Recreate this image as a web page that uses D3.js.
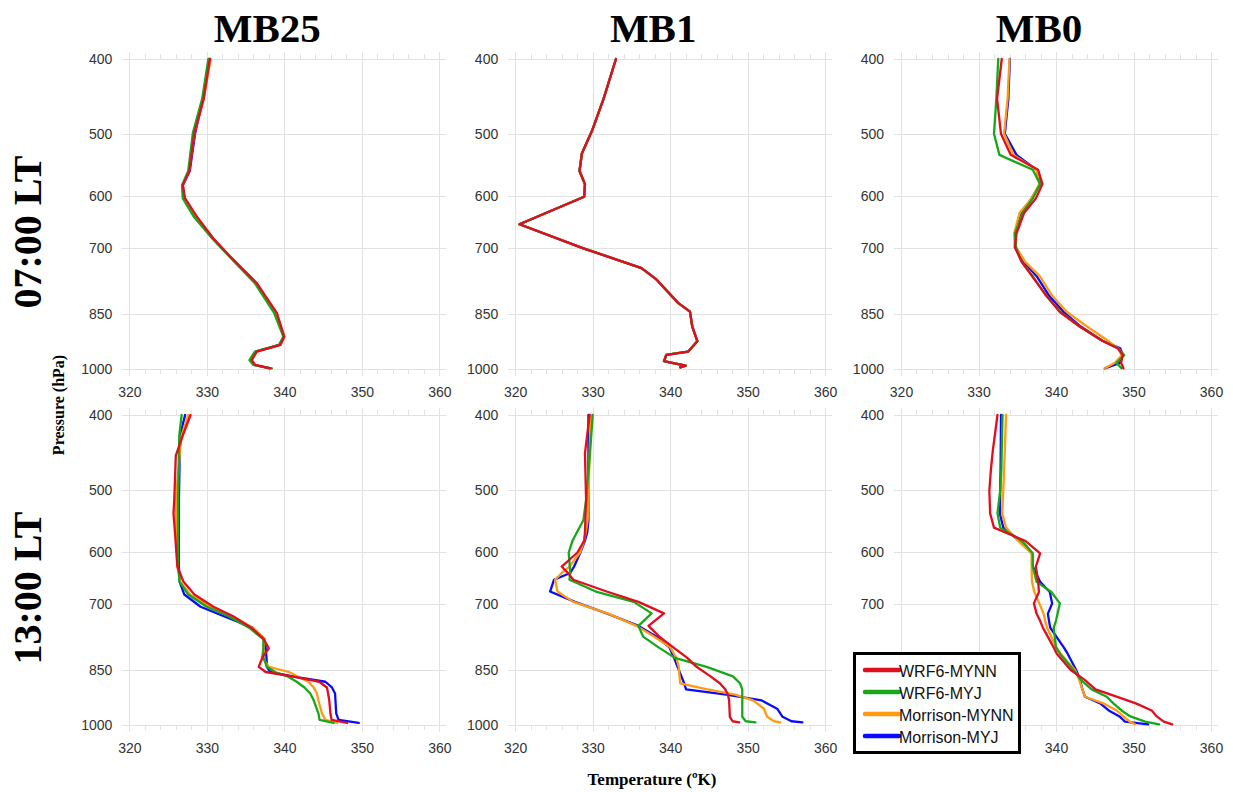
<!DOCTYPE html>
<html>
<head>
<meta charset="utf-8">
<script src="https://cdn.jsdelivr.net/npm/d3@7"></script>
<style>
  body { margin: 0; background: #fff; }
  svg { display: block; }
</style>
</head>
<body>
<svg id="chart" width="1233" height="792"></svg>
<script>
// ---- categories and ticks ----
const stations = ["MB25", "MB1", "MB0"];
const times = ["07:00 LT", "13:00 LT"];
const seriesNames = ["WRF6-MYNN", "WRF6-MYJ", "Morrison-MYNN", "Morrison-MYJ"];
const tempTicks = [320, 330, 340, 350, 360];
const pressureTicks = [400, 500, 600, 700, 850, 1000];

// ---- MB25, 07:00 LT ----
const lev_MB25_07 = [400, 450, 498, 557, 581, 604, 637, 680, 717, 776, 848, 909, 931, 950, 974, 988, 998];
const t_MB25_07_wrfMYNN = [330.4, 329.6, 328.4, 327.75, 326.9, 327.2, 328.7, 330.85, 333.0, 336.45, 339.05, 340.0, 339.5, 336.45, 335.8, 336.25, 338.2];
const t_MB25_07_wrfMYJ  = [330.2, 329.4, 328.2, 327.6, 326.8, 326.9, 328.3, 330.7, 332.9, 336.2, 338.7, 339.9, 339.3, 336.2, 335.5, 336.0, 338.4];
const t_MB25_07_morMYNN = [330.5, 329.6, 328.4, 327.7, 326.9, 327.1, 328.6, 330.8, 333.0, 336.4, 339.0, 340.0, 339.5, 336.4, 335.7, 336.2, 338.2];
const t_MB25_07_morMYJ  = [330.3, 329.5, 328.5, 327.8, 326.9, 327.1, 328.5, 330.8, 333.0, 336.4, 338.9, 339.9, 339.4, 336.3, 335.7, 336.1, 338.1];

// ---- MB1, 07:00 LT ----
const lev_MB1_07 = [400, 450, 495, 529, 557, 579, 601, 652, 700, 742, 768, 823, 844, 882, 921, 950, 959, 977, 983, 990, 995];
const t_MB1_07_wrfMYNN = [333.0, 331.4, 329.9, 328.6, 328.3, 329.0, 328.9, 320.55, 328.8, 336.3, 338.25, 341.05, 342.55, 342.85, 343.5, 342.3, 339.5, 339.2, 340.4, 342.0, 341.3];
const t_MB1_07_wrfMYJ  = [333.0, 331.4, 329.9, 328.6, 328.3, 329.0, 328.9, 320.55, 328.8, 336.3, 338.25, 341.05, 342.55, 342.85, 343.5, 342.3, 339.5, 339.2, 340.4, 342.0, 341.3];
const t_MB1_07_morMYNN = [333.0, 331.4, 329.9, 328.6, 328.3, 329.0, 328.9, 320.55, 328.8, 336.3, 338.25, 341.05, 342.55, 342.85, 343.5, 342.3, 339.5, 339.2, 340.4, 342.0, 341.3];
const t_MB1_07_morMYJ  = [333.0, 331.4, 329.9, 328.6, 328.3, 329.0, 328.9, 320.55, 328.8, 336.3, 338.25, 341.05, 342.55, 342.85, 343.5, 342.3, 339.5, 339.2, 340.4, 342.0, 341.3];

// ---- MB0, 07:00 LT ----
const lev_MB0_07 = [400, 450, 499, 531, 555, 579, 604, 630, 670, 698, 728, 760, 805, 845, 882, 920, 941, 960, 982, 998];
const t_MB0_07_wrfMYNN = [333.0, 332.4, 332.9, 334.15, 337.7, 338.25, 337.4, 335.9, 334.9, 334.7, 335.55, 336.9, 338.75, 340.5, 343.05, 345.95, 348.0, 348.6, 348.4, 348.7];
const t_MB0_07_wrfMYJ  = [332.55, 332.3, 332.0, 332.7, 337.0, 337.95, 337.0, 335.7, 334.7, 334.85, 335.55, 337.0, 338.7, 340.55, 343.05, 346.0, 348.1, 348.8, 347.8, 348.45];
const t_MB0_07_morMYNN = [334.0, 333.75, 333.3, 334.5, 337.5, 337.85, 336.85, 335.3, 334.6, 334.85, 336.0, 337.9, 339.5, 341.4, 344.0, 346.7, 348.0, 348.5, 347.6, 346.3];
const t_MB0_07_morMYJ  = [334.05, 333.85, 333.4, 334.9, 337.5, 337.95, 336.85, 335.6, 334.7, 334.7, 335.8, 337.5, 339.1, 341.0, 343.2, 346.0, 348.3, 348.6, 348.25, 346.3];

// ---- MB25, 13:00 LT ----
const lev_MB25_13 = [400, 425, 451, 515, 535, 567, 626, 655, 680, 705, 725, 750, 776, 797, 818, 842, 855, 867, 880, 895, 911, 930, 966, 985, 994];
const t_MB25_13_wrfMYNN = [327.9, 326.9, 326.0, 325.8, 325.7, 325.9, 326.2, 327.0, 328.4, 330.85, 333.4, 335.75, 337.35, 338.0, 337.2, 336.7, 337.6, 341.2, 344.5, 345.5, 345.65, 345.8, 345.95, 346.1, 348.1];
const t_MB25_13_wrfMYJ  = [326.75, 326.45, 326.4, 326.3, 326.3, 326.3, 326.3, 326.5, 327.6, 330.0, 332.8, 335.45, 337.3, 337.3, 337.3, 337.75, 338.8, 340.5, 341.6, 342.6, 343.35, 343.8, 344.4, 344.55, 346.35];
const t_MB25_13_morMYNN = [327.6, 326.75, 326.5, 326.0, 326.0, 326.05, 326.2, 326.6, 327.85, 330.4, 333.3, 335.9, 337.5, 337.3, 337.1, 338.0, 340.6, 341.8, 343.1, 343.8, 344.2, 344.4, 344.85, 345.3, 346.8];
const t_MB25_13_morMYJ  = [327.2, 326.55, 326.5, 326.4, 326.4, 326.4, 326.4, 326.5, 327.1, 329.2, 332.2, 335.9, 337.45, 337.6, 337.7, 337.75, 338.2, 341.2, 345.3, 346.15, 346.55, 346.6, 346.7, 347.0, 349.6];

// ---- MB1, 13:00 LT ----
const lev_MB1_13 = [400, 448, 514, 546, 566, 580, 601, 626, 638, 651, 674, 695, 719, 746, 770, 795, 820, 842, 866, 884, 900, 914, 930, 953, 976, 989, 992];
const t_MB1_13_wrfMYNN = [329.6, 329.0, 329.15, 329.05, 329.0, 328.9, 328.0, 326.0, 326.8, 327.5, 331.8, 335.9, 339.2, 337.2, 338.6, 340.4, 342.2, 343.4, 345.2, 346.4, 347.1, 347.45, 347.6, 347.65, 347.7, 348.05, 348.9];
const t_MB1_13_wrfMYJ  = [330.0, 329.65, 329.15, 328.8, 327.95, 327.4, 326.9, 327.05, 327.1, 327.0, 330.4, 335.3, 337.6, 335.9, 336.5, 338.5, 340.6, 344.7, 348.1, 349.0, 349.3, 349.3, 349.3, 349.3, 349.3, 349.75, 351.0];
const t_MB1_13_morMYNN = [329.75, 329.6, 329.45, 329.35, 329.1, 328.9, 328.35, 327.0, 326.0, 325.15, 325.45, 327.5, 331.9, 335.65, 337.9, 340.0, 340.8, 341.1, 341.2, 341.3, 344.8, 348.4, 350.7, 352.1, 352.5, 353.4, 354.2];
const t_MB1_13_morMYJ  = [329.45, 329.45, 329.45, 329.45, 329.3, 329.0, 328.4, 327.6, 327.1, 325.0, 324.5, 327.7, 331.8, 335.9, 338.2, 339.9, 340.5, 340.95, 341.45, 341.8, 342.05, 347.25, 351.8, 353.8, 354.5, 355.65, 357.05];

// ---- MB0, 13:00 LT ----
const lev_MB0_13 = [400, 444, 470, 500, 535, 558, 580, 602, 626, 655, 675, 698, 720, 735, 750, 795, 810, 850, 875, 900, 920, 938, 958, 975, 990, 998];
const t_MB0_13_wrfMYNN = [332.45, 331.85, 331.6, 331.4, 331.5, 332.0, 336.0, 337.95, 337.4, 337.7, 337.8, 337.15, 337.5, 337.95, 338.3, 339.7, 340.1, 341.9, 343.7, 345.1, 347.9, 350.3, 352.35, 353.0, 353.9, 355.0];
const t_MB0_13_wrfMYJ  = [333.1, 333.0, 332.95, 332.8, 332.45, 332.8, 335.6, 337.0, 337.0, 337.5, 339.4, 340.5, 340.2, 340.0, 339.7, 340.0, 340.5, 342.25, 343.2, 344.6, 346.55, 347.4, 348.45, 349.6, 351.5, 353.3];
const t_MB0_13_morMYNN = [333.55, 333.4, 333.3, 333.2, 333.05, 333.55, 335.1, 336.85, 336.85, 336.9, 337.2, 337.85, 338.4, 338.6, 338.85, 340.05, 340.6, 342.45, 343.0, 343.4, 343.75, 346.1, 347.85, 348.7, 349.5, 350.2];
const t_MB0_13_morMYJ  = [332.9, 332.87, 332.85, 332.8, 332.75, 333.2, 335.2, 336.9, 337.0, 337.95, 339.2, 339.5, 338.95, 339.1, 339.25, 341.0, 341.5, 342.6, 343.1, 343.4, 343.75, 345.7, 346.8, 348.2, 348.9, 351.9];

// ---- panel table: [row][col] ----
const panelData = [
  [
    { levels: lev_MB25_07, temps: [t_MB25_07_wrfMYNN, t_MB25_07_wrfMYJ, t_MB25_07_morMYNN, t_MB25_07_morMYJ] },
    { levels: lev_MB1_07,  temps: [t_MB1_07_wrfMYNN,  t_MB1_07_wrfMYJ,  t_MB1_07_morMYNN,  t_MB1_07_morMYJ] },
    { levels: lev_MB0_07,  temps: [t_MB0_07_wrfMYNN,  t_MB0_07_wrfMYJ,  t_MB0_07_morMYNN,  t_MB0_07_morMYJ] }
  ],
  [
    { levels: lev_MB25_13, temps: [t_MB25_13_wrfMYNN, t_MB25_13_wrfMYJ, t_MB25_13_morMYNN, t_MB25_13_morMYJ] },
    { levels: lev_MB1_13,  temps: [t_MB1_13_wrfMYNN,  t_MB1_13_wrfMYJ,  t_MB1_13_morMYNN,  t_MB1_13_morMYJ] },
    { levels: lev_MB0_13,  temps: [t_MB0_13_wrfMYNN,  t_MB0_13_wrfMYJ,  t_MB0_13_morMYNN,  t_MB0_13_morMYJ] }
  ]
];

// ---- styling / layout ----
const seriesColors = ["#e10e1f", "#16a819", "#ff9b12", "#0a0aff"];
const colLeft = [129.3, 515.2, 901];
const rowTop = [59, 415];
const PW = 310, PH = 310, PAD = 7;
const gridColor = "#e2e2e2";
const serif = "'Liberation Serif', 'Times New Roman', serif";
const sans = "'Liberation Sans', Arial, Helvetica, sans-serif";
// legend box (sits over the lower-right panel)
const legendBox = { x: 854.5, y: 653.5, w: 165, h: 99 };

const svg = d3.select("#chart");

rowTop.forEach((y0, ri) => {
  colLeft.forEach((x0, ci) => {
    const panel = panelData[ri][ci];
    const x = d3.scaleLinear().domain([320, 360]).range([x0, x0 + PW]);
    const y = d3.scaleLog().domain([400, 1000]).range([y0, y0 + PH]);
    const g = svg.append("g");

    // grid
    const grid = g.append("g").attr("stroke", gridColor).attr("stroke-width", 1).attr("shape-rendering", "crispEdges");
    grid.selectAll(".vx").data(tempTicks).join("line")
      .attr("x1", d => Math.round(x(d)) + 0.5).attr("x2", d => Math.round(x(d)) + 0.5)
      .attr("y1", y0 - PAD).attr("y2", y0 + PH + PAD);
    grid.selectAll(".hy").data(pressureTicks).join("line")
      .attr("y1", d => Math.round(y(d)) + 0.5).attr("y2", d => Math.round(y(d)) + 0.5)
      .attr("x1", x0 - PAD).attr("x2", x0 + PW + PAD);
    const minor = d3.range(322, 360, 2).filter(v => v % 10 !== 0);
    grid.selectAll(".mt").data(minor).join("line")
      .attr("x1", d => Math.round(x(d)) + 0.5).attr("x2", d => Math.round(x(d)) + 0.5)
      .attr("y1", y0 - 5).attr("y2", y0);
    grid.selectAll(".mb").data(minor).join("line")
      .attr("x1", d => Math.round(x(d)) + 0.5).attr("x2", d => Math.round(x(d)) + 0.5)
      .attr("y1", y0 + PH).attr("y2", y0 + PH + 5);

    // axis labels; temperature labels hidden under the legend box are skipped
    const xLabels = tempTicks.filter(t => {
      const px = x(t), py = y0 + PH + 23;
      return !(px > legendBox.x - 12 && px < legendBox.x + legendBox.w + 12 &&
               py > legendBox.y && py < legendBox.y + legendBox.h);
    });
    const yAxis = g.append("g").attr("transform", `translate(${x0 - PAD},0)`)
      .call(d3.axisLeft(y).tickValues(pressureTicks).tickFormat(d3.format("d")).tickSize(0).tickPadding(10));
    const xAxis = g.append("g").attr("transform", `translate(0,${y0 + PH})`)
      .call(d3.axisBottom(x).tickValues(xLabels).tickFormat(d3.format("d")).tickSize(0).tickPadding(18));
    [yAxis, xAxis].forEach(a => {
      a.select(".domain").remove();
      a.selectAll("text").attr("font-family", sans).attr("font-size", 14).attr("fill", "#333");
    });

    // profiles (drawn so the first series ends on top)
    const line = d3.line().x(d => x(d[0])).y(d => y(d[1]));
    for (let si = seriesNames.length - 1; si >= 0; si--) {
      const pts = panel.temps[si].map((t, i) => [t, panel.levels[i]]);
      g.append("path").datum(pts)
        .attr("d", line)
        .attr("fill", "none")
        .attr("stroke", seriesColors[si])
        .attr("stroke-width", 2.3)
        .attr("stroke-linejoin", "round")
        .attr("stroke-linecap", "round");
    }

    // column titles
    if (ri === 0) {
      svg.append("text")
        .attr("x", x0 + 138).attr("y", 42)
        .attr("text-anchor", "middle")
        .attr("font-family", serif).attr("font-weight", "bold").attr("font-size", 41)
        .attr("fill", "#000")
        .text(stations[ci]);
    }
  });

  // row titles
  svg.append("text")
    .attr("transform", `translate(41,${y0 + 173}) rotate(-90)`)
    .attr("text-anchor", "middle")
    .attr("font-family", serif).attr("font-weight", "bold").attr("font-size", 40)
    .attr("fill", "#000")
    .text(times[ri]);
});

// axis titles
svg.append("text")
  .attr("transform", "translate(64,405) rotate(-90)")
  .attr("text-anchor", "middle")
  .attr("font-family", serif).attr("font-weight", "bold").attr("font-size", 16)
  .attr("fill", "#000")
  .text("Pressure (hPa)");

svg.append("text")
  .attr("x", 652).attr("y", 785)
  .attr("text-anchor", "middle")
  .attr("font-family", serif).attr("font-weight", "bold").attr("font-size", 17)
  .attr("fill", "#000")
  .text("Temperature (ºK)");

// legend
const legend = svg.append("g");
legend.append("rect")
  .attr("x", legendBox.x).attr("y", legendBox.y).attr("width", legendBox.w).attr("height", legendBox.h)
  .attr("fill", "#fff").attr("stroke", "#000").attr("stroke-width", 3);
seriesNames.forEach((name, i) => {
  const ly = 670 + i * 22;
  legend.append("line")
    .attr("x1", 865).attr("x2", 899).attr("y1", ly).attr("y2", ly)
    .attr("stroke", seriesColors[i]).attr("stroke-width", 4.5).attr("stroke-linecap", "round");
  legend.append("text")
    .attr("x", 899).attr("y", ly + 7)
    .attr("font-family", sans).attr("font-size", 16).attr("fill", "#111")
    .text(name);
});
</script>
</body>
</html>
